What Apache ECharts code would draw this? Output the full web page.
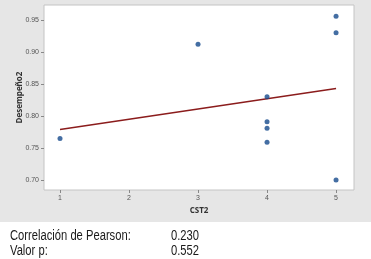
<!DOCTYPE html>
<html>
<head>
<meta charset="utf-8">
<script src="https://cdn.jsdelivr.net/npm/echarts@6/dist/echarts.min.js"></script>
<style>
  html, body { margin: 0; padding: 0; background: #ffffff; }
  #chart { width: 371px; height: 259px; }
</style>
</head>
<body>
<div id="chart"></div>
<script>
// datos del diagrama de dispersion
var cst2 = [1, 3, 4, 4, 4, 4, 5, 5, 5];
var desempeno2 = [0.765, 0.912, 0.830, 0.791, 0.781, 0.759, 0.956, 0.930, 0.700];
// recta ajustada (extremos)
var fitX = [1, 5];
var fitY = [0.779, 0.843];
var xTicks = [1, 2, 3, 4, 5];
var yTicks = [0.70, 0.75, 0.80, 0.85, 0.90, 0.95];
var statLabels = ['Correlación de Pearson:', 'Valor p:'];
var statValues = ['0.230', '0.552'];

var myChart = echarts.init(document.getElementById('chart'));

var points = [];
for (var i = 0; i < cst2.length; i++) {
    points.push([cst2[i], desempeno2[i]]);
}
var fitLine = [];
for (var j = 0; j < fitX.length; j++) {
    fitLine.push([fitX[j], fitY[j]]);
}

// texto de estadisticos bajo el grafico (fuente algo estrecha)
var statFont = '14px "Liberation Sans", Arial, sans-serif';
var textItems = [];
for (var k = 0; k < statLabels.length; k++) {
    textItems.push({
        type: 'text', x: 10, y: 229 + k * 15, scaleX: 0.8,
        style: { text: statLabels[k], fill: '#1a1a1a', font: statFont }
    });
    textItems.push({
        type: 'text', x: 171, y: 229 + k * 15, scaleX: 0.8,
        style: { text: statValues[k], fill: '#1a1a1a', font: statFont }
    });
}

var option = {
    animation: false,
    backgroundColor: '#ffffff',
    graphic: [
        {
            type: 'rect', left: 0, top: 0, z: -10,
            shape: { width: 371, height: 222 },
            style: { fill: '#e6e6e6' }
        }
    ].concat(textItems),
    grid: {
        left: 44, right: 17, top: 5, bottom: 69,
        show: true, backgroundColor: '#ffffff', borderColor: '#c4c4c4', borderWidth: 1
    },
    xAxis: {
        type: 'value',
        min: 0.768, max: 5.26,
        name: 'CST2', nameLocation: 'middle', nameGap: 17,
        nameTextStyle: { color: '#333', fontSize: 8, fontWeight: 'bold', fontFamily: 'Open Sans' },
        axisLine: { show: false },
        splitLine: { show: false },
        axisTick: { show: true, customValues: xTicks, length: 3, lineStyle: { color: '#888' } },
        axisLabel: { customValues: xTicks, color: '#555', fontSize: 7, margin: 5 }
    },
    yAxis: {
        type: 'value',
        min: 0.6844, max: 0.9734,
        name: 'Desempeño2', nameLocation: 'middle', nameGap: 20, nameMoveOverlap: false,
        nameTextStyle: { color: '#333', fontSize: 8, fontWeight: 'bold', fontFamily: 'Open Sans' },
        axisLine: { show: false },
        splitLine: { show: false },
        axisTick: { show: true, customValues: yTicks, length: 3, lineStyle: { color: '#888' } },
        axisLabel: {
            customValues: yTicks, color: '#555', fontSize: 7, margin: 5,
            formatter: function (v) { return v.toFixed(2); }
        }
    },
    series: [
        {
            type: 'line',
            data: fitLine,
            symbol: 'none',
            lineStyle: { color: '#8b1c1c', width: 1.5 },
            z: 2
        },
        {
            type: 'scatter',
            data: points,
            symbolSize: 5,
            itemStyle: { color: '#154a8c' },
            z: 3
        }
    ]
};
myChart.setOption(option);
</script>
</body>
</html>
